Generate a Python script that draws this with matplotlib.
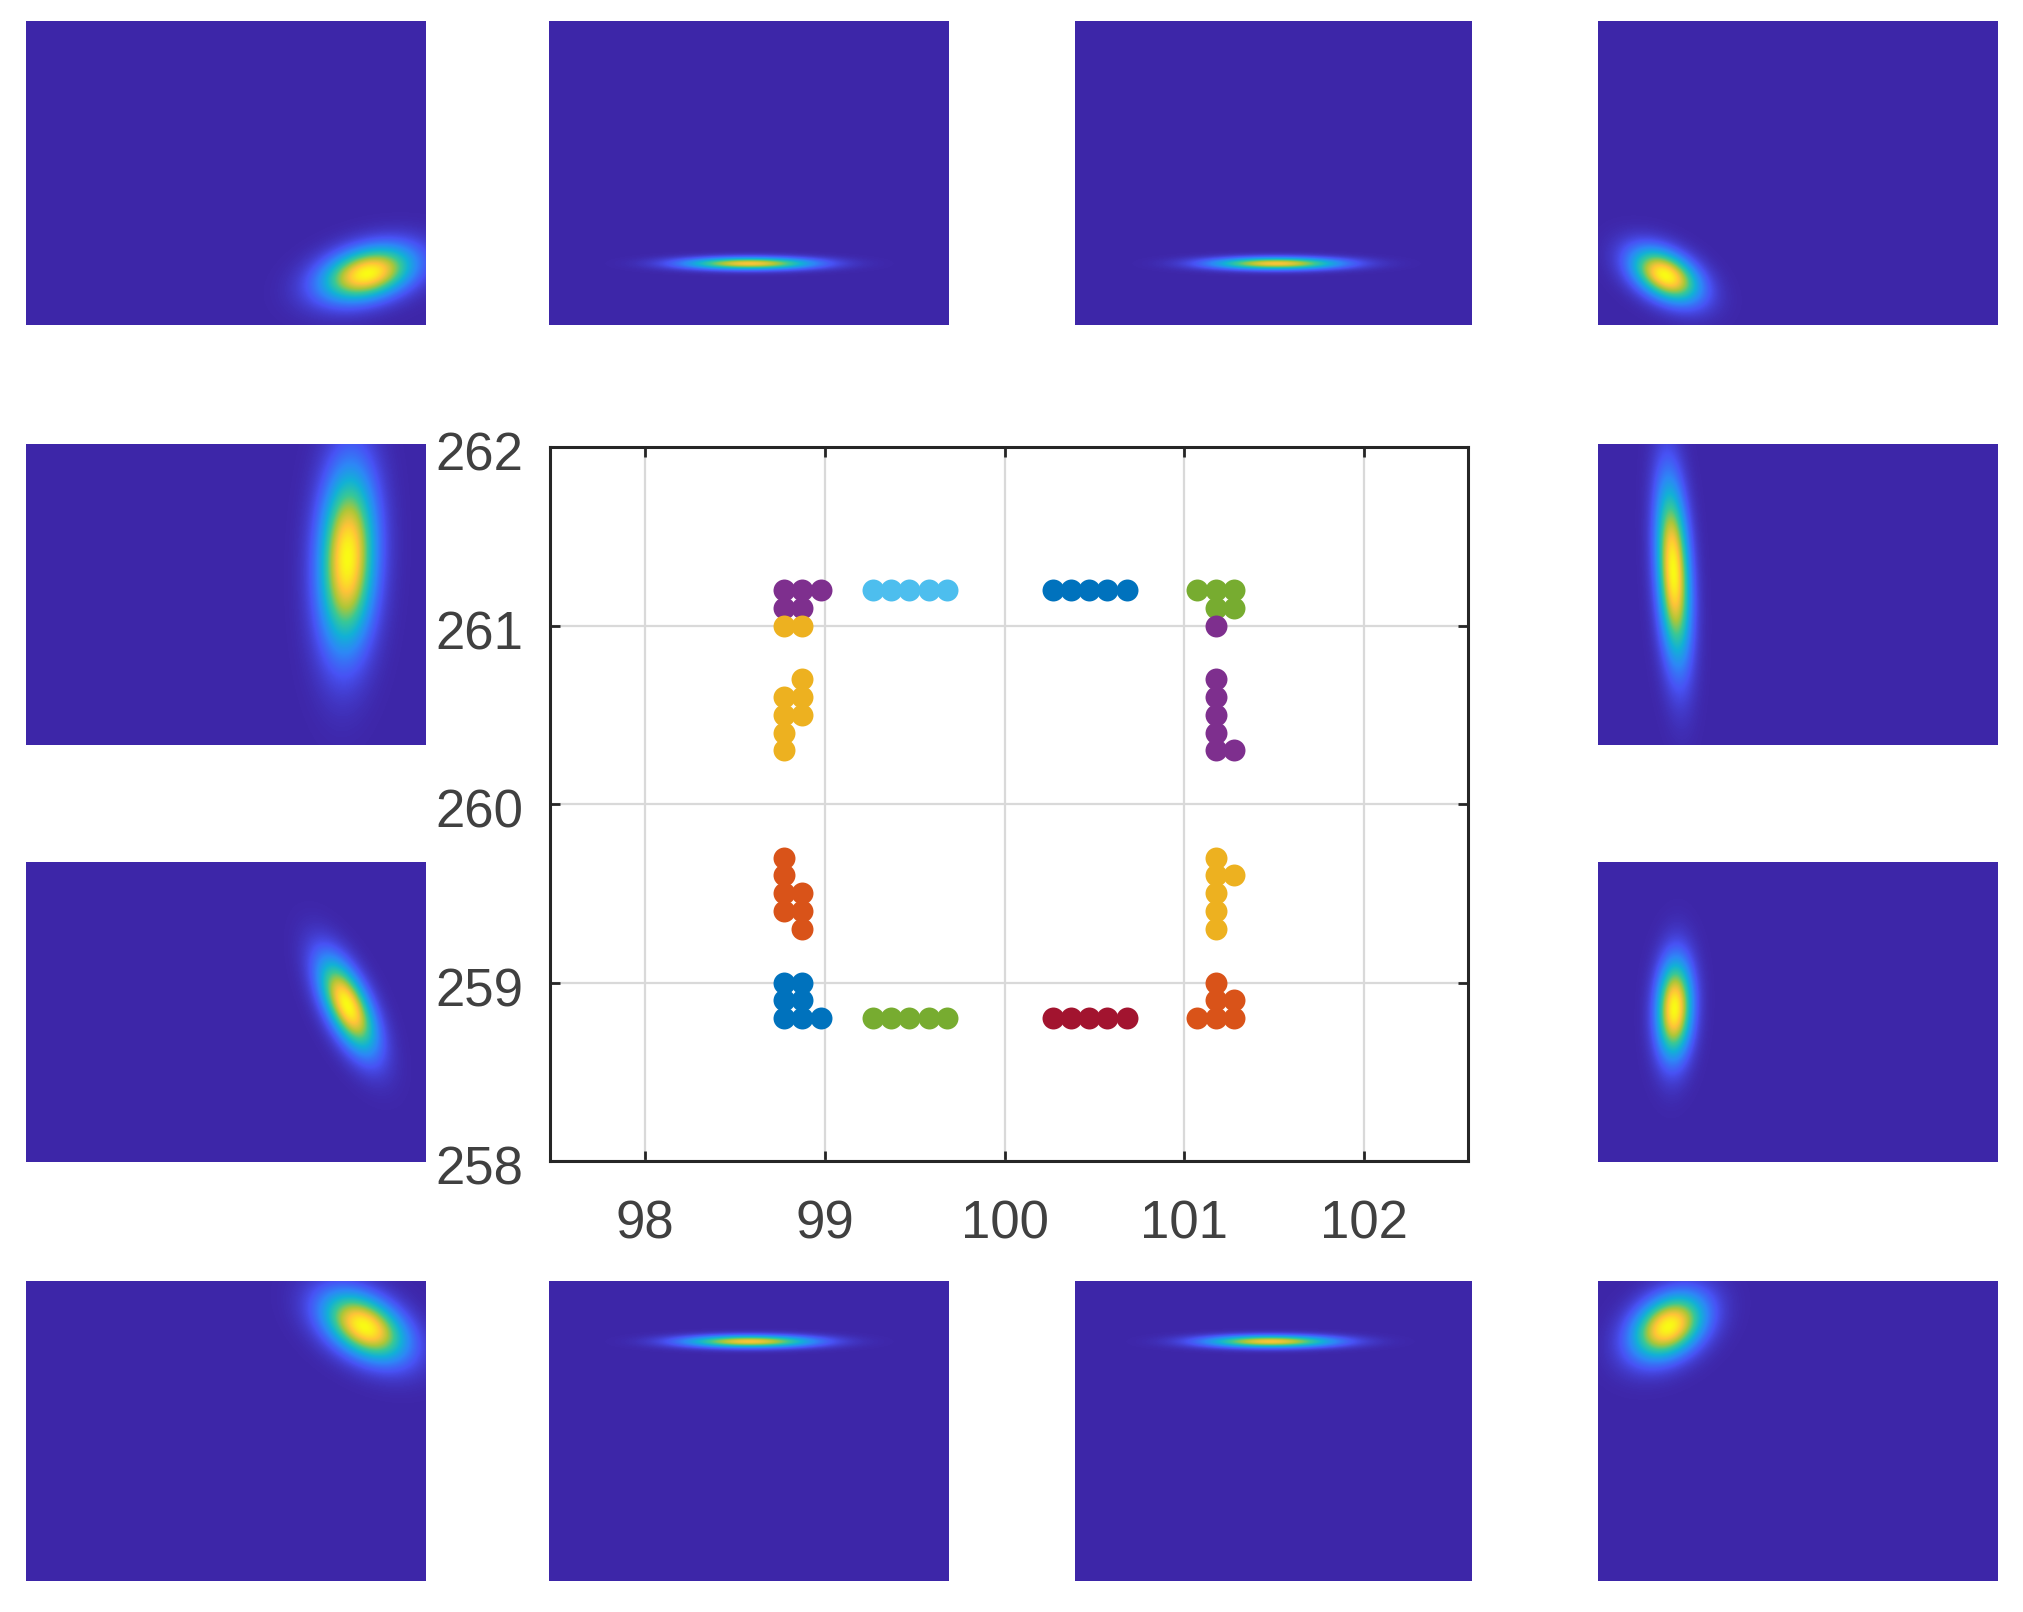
import numpy as np
import matplotlib
matplotlib.use('Agg')
import matplotlib.pyplot as plt
from matplotlib.colors import LinearSegmentedColormap
from matplotlib.transforms import ScaledTranslation

# dot clusters of the middle plot
purple_tl_x = [98.77, 98.87, 98.98, 98.77, 98.87]
purple_tl_y = [261.2, 261.2, 261.2, 261.1, 261.1]
yellow_l_x = [98.77, 98.87, 98.87, 98.77, 98.87, 98.77, 98.87, 98.77, 98.77]
yellow_l_y = [261.0, 261.0, 260.7, 260.6, 260.6, 260.5, 260.5, 260.4, 260.3]
orange_l_x = [98.77, 98.77, 98.77, 98.87, 98.77, 98.87, 98.87]
orange_l_y = [259.7, 259.6, 259.5, 259.5, 259.4, 259.4, 259.3]
blue_bl_x = [98.77, 98.87, 98.77, 98.87, 98.77, 98.87, 98.98]
blue_bl_y = [259.0, 259.0, 258.9, 258.9, 258.8, 258.8, 258.8]
sky_top_x = [99.27, 99.37, 99.47, 99.58, 99.68]
sky_top_y = [261.2, 261.2, 261.2, 261.2, 261.2]
green_bot_x = [99.27, 99.37, 99.47, 99.58, 99.68]
green_bot_y = [258.8, 258.8, 258.8, 258.8, 258.8]
blue_top_x = [100.27, 100.37, 100.47, 100.57, 100.68]
blue_top_y = [261.2, 261.2, 261.2, 261.2, 261.2]
red_bot_x = [100.27, 100.37, 100.47, 100.57, 100.68]
red_bot_y = [258.8, 258.8, 258.8, 258.8, 258.8]
green_tr_x = [101.07, 101.18, 101.28, 101.18, 101.28]
green_tr_y = [261.2, 261.2, 261.2, 261.1, 261.1]
purple_r_x = [101.18, 101.18, 101.18, 101.18, 101.18, 101.18, 101.28]
purple_r_y = [261.0, 260.7, 260.6, 260.5, 260.4, 260.3, 260.3]
yellow_r_x = [101.18, 101.18, 101.28, 101.18, 101.18, 101.18]
yellow_r_y = [259.7, 259.6, 259.6, 259.5, 259.4, 259.3]
orange_br_x = [101.18, 101.18, 101.28, 101.07, 101.18, 101.28]
orange_br_y = [259.0, 258.9, 258.9, 258.8, 258.8, 258.8]

x_ticks = [98, 99, 100, 101, 102]
y_ticks = [258, 259, 260, 261, 262]

# blob seen in each heatmap in panel pixels, left to right, top to bottom
blob_x = [341, 200, 201, 67, 321, 75, 321, 76, 338, 200, 195, 70]
blob_y = [252, 242, 242, 254, 114, 127, 143, 146, 45, 60, 60, 45]
blob_major = [32, 44, 44, 25, 60, 60, 34, 33, 31, 44, 44, 27]
blob_minor = [17, 4.2, 4.2, 15, 19, 11, 14, 12, 19, 4.2, 4.2, 19]
blob_angle = [-15, 0, 0, 30, 92, 87, 65, 92, 32, 0, 0, -35]
blob_peak = [1.0, 0.85, 0.85, 1.0, 1.0, 1.0, 1.0, 1.0, 1.0, 0.85, 0.85, 1.0]

W, H = 2024, 1612
col_edges = [(26, 426), (549, 949), (1075, 1472), (1598, 1998)]
row_edges = [(21, 325), (444, 745), (862, 1162), (1281, 1581)]

parula = LinearSegmentedColormap.from_list('parula', [
    (0.2422, 0.1504, 0.6603), (0.2810, 0.3228, 0.9578), (0.1786, 0.5289, 0.9682),
    (0.0689, 0.6948, 0.8394), (0.2161, 0.7843, 0.5923), (0.6720, 0.7793, 0.2227),
    (0.9970, 0.7659, 0.2199), (0.9769, 0.9839, 0.0805)])


def px_axes(fig, left, right, top, bottom):
    return fig.add_axes([left / W, 1 - bottom / H, (right - left) / W, (bottom - top) / H])


def draw_panel(fig, i, col, row):
    left, right = col_edges[col]
    top, bottom = row_edges[row]
    yy, xx = np.mgrid[0:bottom - top, 0:right - left]
    dx = xx - blob_x[i]
    dy = yy - blob_y[i]
    th = np.radians(blob_angle[i])
    u = dx * np.cos(th) + dy * np.sin(th)
    v = -dx * np.sin(th) + dy * np.cos(th)
    z = blob_peak[i] * np.exp(-0.5 * ((u / blob_major[i]) ** 2 + (v / blob_minor[i]) ** 2))
    ax = px_axes(fig, left, right, top, bottom)
    ax.imshow(z, cmap=parula, vmin=0, vmax=1, aspect='auto', interpolation='bilinear')
    ax.axis('off')


plt.rcParams['font.family'] = ['Liberation Sans', 'DejaVu Sans']
fig = plt.figure(figsize=(W / 100, H / 100), dpi=100)

# ring of panels round the middle plot
slots = [(0, 0), (1, 0), (2, 0), (3, 0), (0, 1), (3, 1), (0, 2), (3, 2), (0, 3), (1, 3), (2, 3), (3, 3)]
for i, (col, row) in enumerate(slots):
    draw_panel(fig, i, col, row)

ax = px_axes(fig, 550, 1468, 447, 1161)
clusters = [
    (purple_tl_x, purple_tl_y, '#7E2F8E'), (yellow_l_x, yellow_l_y, '#EDB120'),
    (orange_l_x, orange_l_y, '#D95319'), (blue_bl_x, blue_bl_y, '#0072BD'),
    (sky_top_x, sky_top_y, '#4DBEEE'), (green_bot_x, green_bot_y, '#77AC30'),
    (blue_top_x, blue_top_y, '#0072BD'), (red_bot_x, red_bot_y, '#A2142F'),
    (green_tr_x, green_tr_y, '#77AC30'), (purple_r_x, purple_r_y, '#7E2F8E'),
    (yellow_r_x, yellow_r_y, '#EDB120'), (orange_br_x, orange_br_y, '#D95319'),
]
for xs, ys, colour in clusters:
    ax.scatter(xs, ys, s=250, color=colour, linewidths=0, zorder=3)

ax.set_xlim(97.47, 102.58)
ax.set_ylim(258, 262)
ax.set_xticks(x_ticks)
ax.set_yticks(y_ticks)
ax.grid(True, color='#d9d9d9', linewidth=1.6)
ax.set_axisbelow(True)
ax.tick_params(axis='both', direction='in', length=7, width=2, top=True, right=True,
               color='#262626', labelcolor='#404040', labelsize=38)
ax.tick_params(axis='x', pad=28)
ax.tick_params(axis='y', pad=19)
for spine in ax.spines.values():
    spine.set_linewidth(2.2)
    spine.set_color('#262626')

# y labels sit a little under their ticks in the reference
shift = ScaledTranslation(0, -3 / 72, fig.dpi_scale_trans)
for label in ax.get_yticklabels():
    label.set_transform(label.get_transform() + shift)

fig.savefig('out.png', dpi=100)
